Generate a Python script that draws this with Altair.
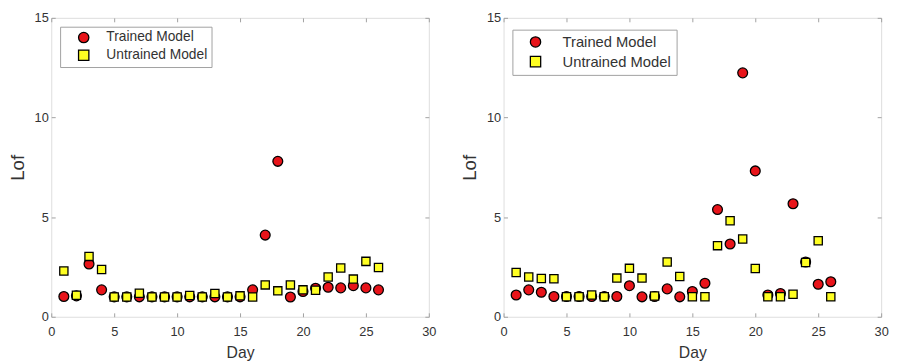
import altair as alt
import pandas as pd

days = list(range(1, 27))
models = ["Trained Model", "Untrained Model"]

left_trained = [1.02, 1.05, 2.65, 1.35, 1.0, 1.0, 1.0, 1.0, 1.0, 1.0, 1.0, 1.0, 1.0,
                1.0, 1.0, 1.35, 4.1, 7.8, 0.99, 1.27, 1.43, 1.48, 1.45, 1.56, 1.45, 1.35]
left_untrained = [2.3, 1.08, 3.03, 2.37, 0.99, 0.99, 1.18, 0.99, 0.99, 0.99, 1.07, 0.99, 1.17,
                  0.99, 1.05, 0.99, 1.6, 1.3, 1.6, 1.35, 1.33, 2.0, 2.45, 1.89, 2.78, 2.47]

right_trained = [1.09, 1.35, 1.23, 1.02, 1.02, 1.02, 1.02, 1.02, 1.02, 1.56, 1.0, 1.02, 1.4,
                 1.0, 1.27, 1.68, 5.38, 3.65, 12.24, 7.32, 1.09, 1.17, 5.67, 2.75, 1.63, 1.76]
right_untrained = [2.22, 2.0, 1.92, 1.91, 1.0, 1.0, 1.09, 1.0, 1.94, 2.43, 1.94, 1.04, 2.75,
                   2.02, 1.0, 1.0, 3.57, 4.82, 3.9, 2.42, 1.0, 1.0, 1.13, 2.72, 3.82, 1.0]

x_ticks = [0, 5, 10, 15, 20, 25, 30]
y_ticks = [0, 5, 10, 15]

FONT = "Liberation Sans"
FRAME = "#a0a0a0"
TEXT = "#333333"
colors = ["#e8141a", "#ffff22"]
shapes = ["circle", "square"]


def panel(trained, untrained, lg):
    df = pd.DataFrame({
        "Day": days + days,
        "Lof": trained + untrained,
        "Model": [models[0]] * len(days) + [models[1]] * len(days),
    })
    xscale = alt.Scale(domain=[0, 30], nice=False, zero=False)
    yscale = alt.Scale(domain=[0, 15], nice=False)
    common_axis = dict(grid=False, domain=False, ticks=True, tickSize=4, offset=-4,
                       tickColor=FRAME, tickWidth=1, labelFlush=False, labelOverlap=False,
                       labelFont=FONT, labelFontSize=13, labelColor=TEXT,
                       titleFont=FONT, titleColor=TEXT, titleFontWeight="normal")
    legend = alt.Legend(title=None, orient="none", legendX=lg["x"], legendY=lg["y"],
                        labelFont=FONT, labelFontSize=lg["font"], labelColor=TEXT,
                        padding=lg["pad"], symbolOffset=lg["soff"], labelOffset=lg["loff"],
                        rowPadding=lg["row"], strokeColor=FRAME, fillColor="white",
                        symbolSize=110, symbolStrokeWidth=1.3)
    pts = alt.Chart(df).mark_point(filled=True, strokeWidth=1.3, opacity=1).encode(
        x=alt.X("Day:Q", scale=xscale,
                axis=alt.Axis(values=x_ticks, title="Day", orient="bottom", labelPadding=9,
                              titleFontSize=16, titlePadding=6, **common_axis)),
        y=alt.Y("Lof:Q", scale=yscale,
                axis=alt.Axis(values=y_ticks, title="Lof", orient="left", labelPadding=3,
                              titleFontSize=19, titlePadding=7, **common_axis)),
        fill=alt.Fill("Model:N", scale=alt.Scale(domain=models, range=colors), legend=legend),
        shape=alt.Shape("Model:N", scale=alt.Scale(domain=models, range=shapes), legend=legend),
        stroke=alt.Stroke("Model:N", scale=alt.Scale(domain=models, range=["black", "black"]),
                          legend=legend),
        size=alt.Size("Model:N", scale=alt.Scale(domain=models, range=[100, 70]), legend=None),
    )
    frame_ticks = alt.Chart(df).mark_point(opacity=0).encode(
        x=alt.X("Day:Q", scale=xscale,
                axis=alt.Axis(values=x_ticks, orient="top", labels=False, title=None,
                              grid=False, domain=False, tickSize=4, offset=-4, tickColor=FRAME)),
        y=alt.Y("Lof:Q", scale=yscale,
                axis=alt.Axis(values=y_ticks, orient="right", labels=False, title=None,
                              grid=False, domain=False, tickSize=4, offset=-4, tickColor=FRAME)),
    )
    return alt.layer(pts, frame_ticks).resolve_axis(x="independent", y="independent").properties(
        width=384, height=304)


left = panel(left_trained, left_untrained,
             dict(x=9, y=9, font=14, pad=4, soff=13, loff=16, row=2))
right = panel(right_trained, right_untrained,
              dict(x=9, y=12, font=15, pad=5, soff=11, loff=20, row=3))

chart = alt.hconcat(left, right, spacing=24).resolve_legend(
    fill="independent", shape="independent", stroke="independent").properties(
    padding={"left": 0, "top": 0, "right": 0, "bottom": 0}
).configure_view(stroke=FRAME, strokeWidth=1).configure(font=FONT)

chart.save("out.html", embed_options={"renderer": "svg", "actions": False})
